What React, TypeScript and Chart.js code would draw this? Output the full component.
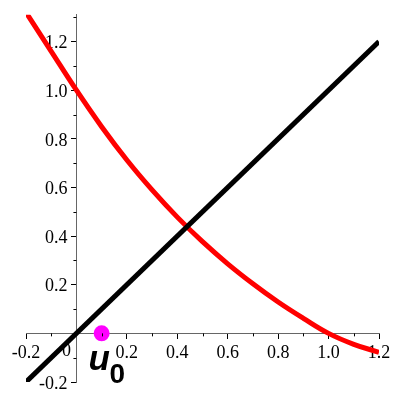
import React, { useEffect, useRef } from 'react';
import { Chart, registerables } from 'chart.js';

Chart.register(...registerables);

// Red curve samples
const redX = [-0.2, -0.1, 0, 0.1, 0.2, 0.3, 0.4, 0.5, 0.6, 0.7, 0.8, 0.9, 1.0, 1.1, 1.2];
const redY = [1.32, 1.16, 1.0, 0.85, 0.713, 0.59, 0.478, 0.377, 0.286, 0.204, 0.129, 0.062, 0.0, -0.045, -0.078];

// Black line y = x
const blackX = [-0.2, 1.2];
const blackY = [-0.2, 1.2];

// Magenta point u0
const pointX = [0.1];
const pointY = [0];

// Axis ranges / ticks
const xMin = -0.2;
const xMax = 1.2;
const yMin = -0.2;
const yMax = 1.31;
const majorStep = 0.2;
const minorTicksX = [-0.1, 0.1, 0.3, 0.5, 0.7, 0.9, 1.1];
const minorTicksY = [-0.1, 0.1, 0.3, 0.5, 0.7, 0.9, 1.1, 1.3];

// Label
const labelMain = 'u';
const labelSub = '0';
const labelAt = [0.048, -0.151];
const originLabel = '0';

const fmt = (v: number) => (Math.abs(v) < 1e-9 ? '' : v.toFixed(1));

export default function App() {
  const ref = useRef<HTMLCanvasElement>(null);

  useEffect(() => {
    if (!ref.current) return;

    const extras = {
      id: 'extras',
      afterDatasetsDraw(chart: any) {
        const ctx = chart.ctx;
        const xs = chart.scales.x;
        const ys = chart.scales.y;
        const x0 = xs.getPixelForValue(0);
        const y0 = ys.getPixelForValue(0);
        ctx.save();
        // minor ticks
        ctx.strokeStyle = '#000';
        ctx.lineWidth = 1;
        ctx.beginPath();
        minorTicksX.forEach((v) => {
          const px = Math.round(xs.getPixelForValue(v)) + 0.5;
          ctx.moveTo(px, y0);
          ctx.lineTo(px, y0 + 3);
        });
        minorTicksY.forEach((v) => {
          const py = Math.round(ys.getPixelForValue(v)) + 0.5;
          ctx.moveTo(x0, py);
          ctx.lineTo(x0 - 3, py);
        });
        ctx.stroke();
        // origin label
        ctx.fillStyle = '#000';
        ctx.font = "18px 'Liberation Serif'";
        ctx.textAlign = 'center';
        ctx.textBaseline = 'middle';
        ctx.fillText(originLabel, x0 - 10, y0 + 18);
        // u0 label
        const lx = xs.getPixelForValue(labelAt[0]);
        const ly = ys.getPixelForValue(labelAt[1]);
        ctx.textAlign = 'left';
        ctx.textBaseline = 'alphabetic';
        ctx.font = "italic bold 35px 'Liberation Sans'";
        ctx.fillText(labelMain, lx, ly);
        ctx.font = "bold 28px 'Liberation Sans'";
        ctx.fillText(labelSub, lx + 21, ly + 13);
        ctx.restore();
      },
    };

    const chart = new Chart(ref.current, {
      type: 'scatter',
      data: {
        datasets: [
          {
            data: pointX.map((x, i) => ({ x, y: pointY[i] })),
            pointRadius: 8,
            pointBackgroundColor: '#ff00ff',
            pointBorderWidth: 0,
            showLine: false,
          },
          {
            data: blackX.map((x, i) => ({ x, y: blackY[i] })),
            showLine: true,
            borderColor: '#000000',
            borderWidth: 5,
            pointRadius: 0,
          },
          {
            data: redX.map((x, i) => ({ x, y: redY[i] })),
            showLine: true,
            borderColor: '#ff0000',
            borderWidth: 5,
            pointRadius: 0,
            tension: 0.4,
          },
        ],
      },
      options: {
        animation: false,
        responsive: true,
        maintainAspectRatio: false,
        layout: { padding: { left: 26, right: 21, top: 12, bottom: 18 } },
        plugins: { legend: { display: false }, tooltip: { enabled: false } },
        scales: {
          x: {
            type: 'linear',
            min: xMin,
            max: xMax,
            position: { y: 0 },
            afterFit: (s: any) => {
              s.height = 0;
            },
            grid: { drawOnChartArea: false, drawTicks: true, tickLength: 5, tickColor: '#000' },
            border: { display: true, color: '#666', width: 1 },
            ticks: {
              stepSize: majorStep,
              includeBounds: false,
              autoSkip: false,
              maxRotation: 0,
              padding: 4,
              color: '#000',
              font: { family: "'Liberation Serif'", size: 18 },
              callback: (v: any) => fmt(Number(v)),
            },
          },
          y: {
            type: 'linear',
            min: yMin,
            max: yMax,
            position: { x: 0 },
            afterFit: (s: any) => {
              s.width = 0;
            },
            grid: { drawOnChartArea: false, drawTicks: true, tickLength: 5, tickColor: '#000' },
            border: { display: true, color: '#666', width: 1 },
            ticks: {
              stepSize: majorStep,
              includeBounds: false,
              autoSkip: false,
              padding: 4,
              labelOffset: 2,
              color: '#000',
              font: { family: "'Liberation Serif'", size: 18 },
              callback: (v: any) => {
                const s = fmt(Number(v));
                return s ? s + '  ' : '';
              },
            },
          },
        },
      },
      plugins: [extras],
    });
    return () => chart.destroy();
  }, []);

  return (
    <div style={{ position: 'fixed', left: 0, top: 0, width: 400, height: 400, background: '#fff' }}>
      <canvas ref={ref} />
    </div>
  );
}
